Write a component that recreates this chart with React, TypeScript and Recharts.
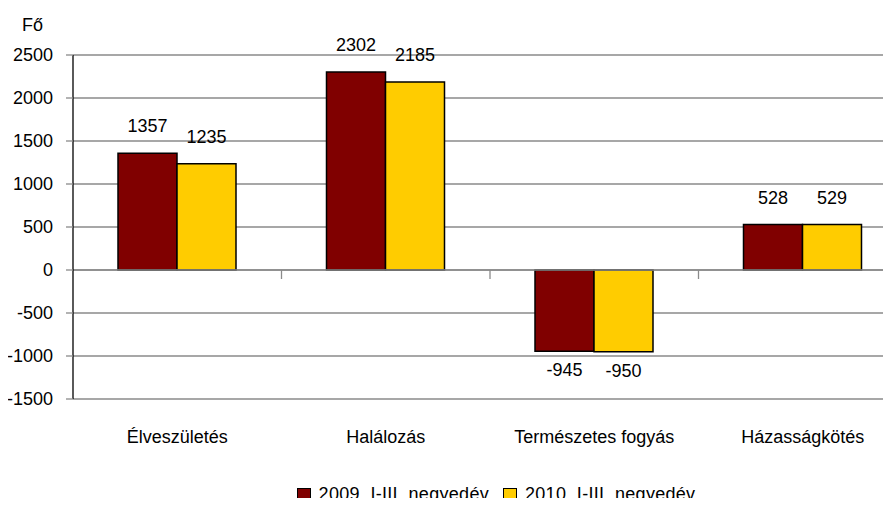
import { BarChart, Bar, XAxis, YAxis, CartesianGrid, Legend, LabelList, ReferenceLine } from 'recharts';

const categories = ['Élveszületés', 'Halálozás', 'Természetes fogyás', 'Házasságkötés'];
const values2009 = [1357, 2302, -945, 528];
const values2010 = [1235, 2185, -950, 529];
const yTicks = [-1500, -1000, -500, 0, 500, 1000, 1500, 2000, 2500];
const seriesNames = ['2009. I-III. negyedév', '2010. I-III. negyedév'];

const data = categories.map((name, i) => ({
    name,
    a: values2009[i],
    b: values2010[i],
}));

const FONT = '"Liberation Sans", Arial, sans-serif';

const renderValue = (props: any) => {
    const { x, y, width, height, value } = props;
    const top = Math.min(y, y + height);
    const bottom = Math.max(y, y + height);
    const ty = value >= 0 ? top - 21 : bottom + 25;
    return (
        <text x={x + width / 2} y={ty} textAnchor="middle" fontSize={18} fontFamily={FONT} fill="#000">
            {value}
        </text>
    );
};

const renderLegend = (props: any) => {
    const { payload } = props;
    return (
        <div style={{ display: 'flex', justifyContent: 'center', fontFamily: FONT, fontSize: 18, color: '#000' }}>
            {payload.map((p: any, i: number) => (
                <div key={i} style={{ display: 'flex', alignItems: 'center', marginRight: i === 0 ? 14 : 0 }}>
                    <span style={{ display: 'inline-block', width: 12, height: 12, background: p.color, border: '1px solid #000', marginRight: 8 }} />
                    <span style={{ letterSpacing: 0.3 }}>{p.value}</span>
                </div>
            ))}
        </div>
    );
};

const App = () => {
    return (
        <div style={{ margin: -8, width: 891, height: 506, overflow: 'hidden', background: '#fff' }}>
            <BarChart width={910} height={506} data={data} margin={{ top: 55, right: 3, bottom: 0, left: 0 }} barGap={0} barSize={59}>
                <CartesianGrid vertical={false} stroke="#8a8a8a" strokeWidth={1.3} />
                <XAxis
                    dataKey="name"
                    height={107}
                    axisLine={false}
                    tickLine={false}
                    tickSize={0}
                    tickMargin={31}
                    tick={{ fontSize: 18, fontFamily: FONT, fill: '#000' }}
                />
                <YAxis
                    width={73}
                    domain={[-1500, 2500]}
                    ticks={yTicks}
                    interval={0}
                    tickSize={7}
                    tickMargin={13}
                    axisLine={{ stroke: '#000', strokeWidth: 1.3 }}
                    tickLine={{ stroke: '#8a8a8a', strokeWidth: 1.3 }}
                    tick={{ fontSize: 18, fontFamily: FONT, fill: '#000' }}
                    label={{
                        content: () => (
                            <text x={22} y={31} fontSize={18} fontFamily={FONT} fill="#000">Fő</text>
                        ),
                    }}
                />
                <ReferenceLine y={0} stroke="#8a8a8a" strokeWidth={1.3} />
                {categories.slice(0, 3).map((c) => (
                    <ReferenceLine
                        key={c}
                        position="end"
                        segment={[{ x: c, y: 0 }, { x: c, y: -105 }]}
                        stroke="#8a8a8a"
                        strokeWidth={1.3}
                    />
                ))}
                <Legend
                    verticalAlign="middle"
                    align="center"
                    layout="horizontal"
                    content={renderLegend}
                    wrapperStyle={{ top: 484, left: 0, width: 992, height: 24 }}
                />
                <Bar dataKey="a" name={seriesNames[0]} fill="#800000" stroke="#000" strokeWidth={1.5} isAnimationActive={false}>
                    <LabelList dataKey="a" content={renderValue} />
                </Bar>
                <Bar dataKey="b" name={seriesNames[1]} fill="#ffcc00" stroke="#000" strokeWidth={1.5} isAnimationActive={false}>
                    <LabelList dataKey="b" content={renderValue} />
                </Bar>
            </BarChart>
        </div>
    );
};

export default App;
